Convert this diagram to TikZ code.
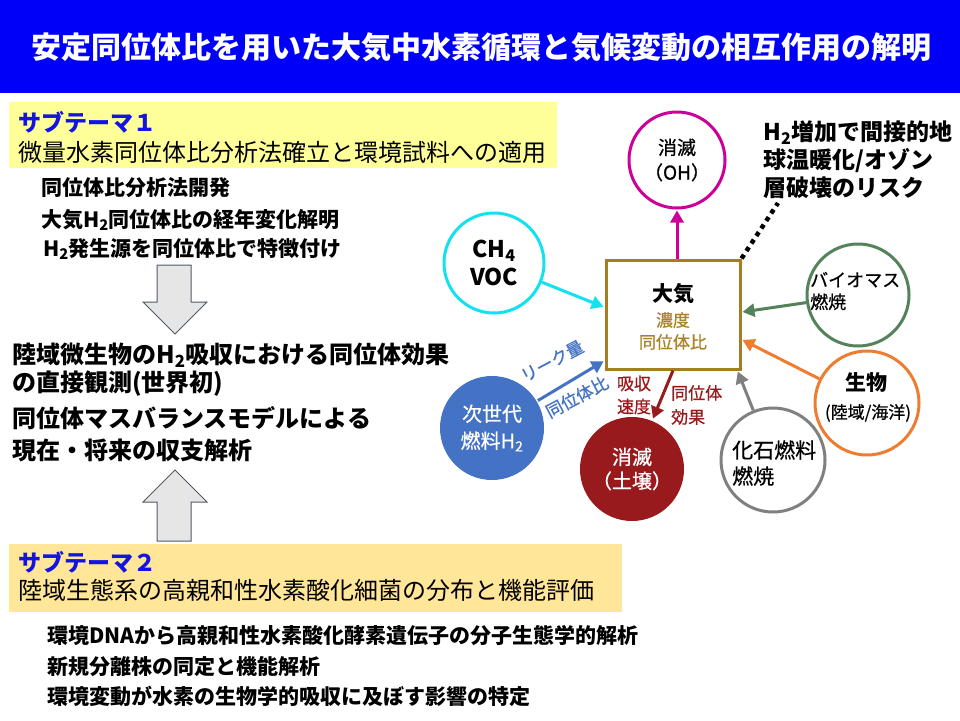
\documentclass[tikz,border=0pt]{standalone}
\usepackage{fontspec}
\setmainfont{Noto Sans CJK JP}
\newfontfamily\mdfont[FakeBold=0.7]{Noto Sans CJK JP}
\usetikzlibrary{arrows.meta}
\definecolor{hdrblue}{RGB}{0,0,250}
\definecolor{headblue}{RGB}{20,20,225}
\definecolor{subone}{RGB}{255,255,153}
\definecolor{subtwo}{RGB}{255,230,153}
\definecolor{atmbrown}{RGB}{165,125,35}
\definecolor{atmtext}{RGB}{170,130,40}
\definecolor{ohmag}{RGB}{204,0,153}
\definecolor{cyanc}{RGB}{20,225,240}
\definecolor{biogreen}{RGB}{84,130,90}
\definecolor{lifeorange}{RGB}{237,125,49}
\definecolor{fossilgray}{RGB}{128,128,128}
\definecolor{soilred}{RGB}{152,26,28}
\definecolor{h2blue}{RGB}{68,114,196}
\definecolor{blkfill}{RGB}{230,230,230}
\definecolor{blkedge}{RGB}{80,90,100}
\newcommand{\fs}[2]{\fontsize{#1}{#2}\selectfont}
\begin{document}
\begin{tikzpicture}[x=1pt,y=-1pt,
  circ/.style={circle, line width=3pt, minimum size=104pt, inner sep=0pt, align=center},
  flow/.style={line width=3pt, -{Triangle[length=12pt,width=13pt]}, shorten >=1pt},
  lbl/.style={inner sep=0pt, anchor=west, align=left},
  blockarrow/.style={fill=blkfill, draw=blkedge, line width=1pt, line join=miter},
  riskdot/.style={line width=4.5pt, dash pattern=on 4.5pt off 4.5pt},
  subbox/.style={anchor=north west, inner sep=0pt}
]
\useasboundingbox (0,0) rectangle (960,720);
\fill[white] (0,0) rectangle (960,720);

% header
\node[fill=hdrblue, anchor=north west, minimum width=960pt, minimum height=93pt, inner sep=0pt] (header) at (0,0) {};
\node[text=white, font=\fs{30}{36}\bfseries, inner sep=0pt] (title) at (481,47) {安定同位体比を用いた大気中水素循環と気候変動の相互作用の解明};

% subtheme 1
\node[subbox, fill=subone, minimum width=548pt, minimum height=66pt] (sub1) at (9,102) {};
\node[lbl, text=headblue, font=\fs{23}{28}\bfseries] (sub1h) at (18,122) {サブテーマ１};
\node[lbl, font=\fs{24}{28}] (sub1t) at (18,152) {微量水素同位体比分析法確立と環境試料への適用};
\node[lbl, font=\fs{21}{25}\bfseries] (b11) at (41,188) {同位体比分析法開発};
\node[lbl, font=\fs{21}{25}\bfseries] (b12) at (41,220) {大気H\textsubscript{2}同位体比の経年変化解明};
\node[lbl, font=\fs{21}{25}\bfseries] (b13) at (43,249) {H\textsubscript{2}発生源を同位体比で特徴付け};

% block arrows
\draw[blockarrow] (157,265) -- (191,265) -- (191,302) -- (207,302) -- (175,334) -- (143,302) -- (157,302) -- cycle;
\draw[blockarrow] (175,470) -- (207,502) -- (191,502) -- (191,541) -- (157,541) -- (157,502) -- (143,502) -- cycle;

% middle text
\node[lbl, font=\fs{24}{28}\bfseries] (m1) at (12,355) {陸域微生物のH\textsubscript{2}吸収における同位体効果};
\node[lbl, font=\fs{24}{28}\bfseries] (m2) at (12,384) {の直接観測(世界初)};
\node[lbl, font=\fs{24}{28}\bfseries] (m3) at (12,418) {同位体マスバランスモデルによる};
\node[lbl, font=\fs{24}{28}\bfseries] (m4) at (12,450) {現在・将来の収支解析};

% subtheme 2
\node[subbox, fill=subtwo, minimum width=613pt, minimum height=68pt] (sub2) at (9,544) {};
\node[lbl, text=headblue, font=\fs{23}{28}\bfseries] (sub2h) at (18,562) {サブテーマ２};
\node[lbl, font=\fs{24}{28}] (sub2t) at (18,590) {陸域生態系の高親和性水素酸化細菌の分布と機能評価};
\node[lbl, font=\fs{21}{25}\bfseries] (b21) at (47,636) {環境DNAから高親和性水素酸化酵素遺伝子の分子生態学的解析};
\node[lbl, font=\fs{21}{25}\bfseries] (b22) at (47,667) {新規分離株の同定と機能解析};
\node[lbl, font=\fs{21}{25}\bfseries] (b23) at (47,696) {環境変動が水素の生物学的吸収に及ぼす影響の特定};

% atmosphere box
\node[draw=atmbrown, line width=3pt, minimum width=134pt, minimum height=109pt, inner sep=0pt] (atm) at (673,314.5) {};
\node[font=\fs{21}{25}\bfseries, inner sep=0pt] (atmt) at (673,294) {大気};
\node[font=\mdfont\fs{17}{22}, text=atmtext, align=center, inner sep=0pt] (atms) at (673,331) {濃度\\同位体比};

% circles
\node[circ, draw=ohmag, minimum size=96pt, font=\mdfont\fs{19}{25}] (oh) at (677,160) {消滅\\（OH）};
\node[circ, draw=cyanc, minimum size=100pt, font=\fs{23}{28}\bfseries] (ch4) at (494,263) {CH\textsubscript{4}\\VOC};
\node[circ, draw=biogreen, minimum size=102pt] (bio) at (858,295) {};
\node[lbl, font=\mdfont\fs{18}{22}] (biot) at (810,291) {バイオマス\\燃焼};
\node[circ, draw=lifeorange] (life) at (867,403) {};
\node[font=\fs{21}{24}\bfseries, inner sep=0pt] (lifet) at (866,383) {生物};
\node[font=\mdfont\fs{17}{20}, inner sep=0pt] (lifes) at (868,413) {(陸域/海洋)};
\node[circ, draw=fossilgray] (fossil) at (773,460) {};
\node[lbl, font=\mdfont\fs{21}{26}] (fossilt) at (732,463) {化石燃料\\燃焼};
\node[circ, fill=soilred, text=white, font=\mdfont\fs{20}{24}] (soil) at (632,469) {消滅\\（土壌）};
\node[circ, fill=h2blue, text=white, font=\mdfont\fs{20}{27}] (h2) at (492,428) {次世代\\燃料H\textsubscript{2}};

% risk text
\node[lbl, font=\fs{23}{28}\bfseries] (risk) at (763,160) {H\textsubscript{2}増加で間接的地\\球温暖化/オゾン\\層破壊のリスク};
\coordinate (riskpt) at (778,203);

% connectors
\draw[flow, color=cyanc] (ch4) -- (atm.174);
\draw[flow, color=biogreen] (bio) -- (atm.2);
\draw[flow, color=lifeorange] (life) -- (atm.340);
\draw[flow, color=fossilgray] (fossil) -- (atm.319);
\draw[flow, color=soilred] (atm.south) -- (soil);
\draw[flow, color=ohmag] (oh |- atm.north) -- (oh);
\draw[flow, color=h2blue] (h2) -- (atm.214);
\draw[riskdot] (atm.north east) -- (riskpt);

% blue arrow labels
\node[rotate=28, font=\mdfont\fs{17}{20}, text=h2blue, inner sep=0pt] (leak) at (552,361) {リーク量};
\node[rotate=28, font=\mdfont\fs{17}{20}, text=h2blue, inner sep=0pt] (iso) at (577,397) {同位体比};

% soil arrow labels
\node[font=\mdfont\fs{17}{23}, text=soilred, align=left, inner sep=0pt] (rate) at (634,395) {吸収\\速度};
\node[lbl, font=\mdfont\fs{17}{24}, text=soilred] (effect) at (671,405) {同位体\\効果};
\end{tikzpicture}
\end{document}
